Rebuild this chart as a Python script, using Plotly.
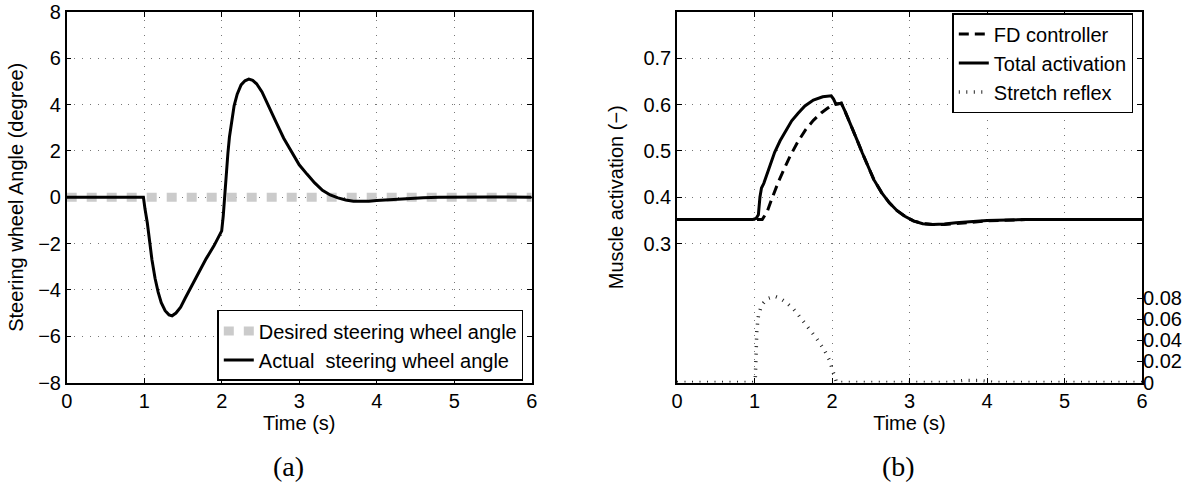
import plotly.graph_objects as go

# ---------------- data: panel (a) ----------------
t_desired = [0, 6]
angle_desired = [0, 0]

t_actual = [0, 0.99, 1.01, 1.04, 1.07, 1.10, 1.14, 1.18, 1.22, 1.27, 1.32, 1.36, 1.41,
            1.47, 1.53, 1.60, 1.70, 1.80, 1.90, 1.98, 2.00, 2.02, 2.04, 2.06, 2.08,
            2.10, 2.13, 2.16, 2.20, 2.25, 2.30, 2.35, 2.40, 2.45, 2.52, 2.60, 2.70,
            2.80, 2.90, 3.00, 3.10, 3.20, 3.30, 3.40, 3.50, 3.60, 3.70, 3.80, 3.90,
            4.00, 4.20, 4.40, 4.60, 4.80, 5.00, 5.50, 6.00]
angle_actual = [0, 0, -0.5, -1.1, -1.9, -2.7, -3.5, -4.1, -4.55, -4.9, -5.08, -5.12, -5.0,
                -4.75, -4.35, -3.9, -3.25, -2.65, -2.1, -1.6, -1.45, -0.8, 0.2, 1.1, 1.9,
                2.6, 3.4, 3.95, 4.45, 4.85, 5.03, 5.1, 5.05, 4.9, 4.55, 4.0, 3.25,
                2.55, 2.0, 1.4, 1.0, 0.62, 0.3, 0.1, -0.03, -0.12, -0.17, -0.18, -0.17,
                -0.14, -0.09, -0.05, -0.02, 0.0, 0.01, 0.01, 0.0]

# ---------------- data: panel (b) ----------------
t_total = [0, 0.98, 1.02, 1.05, 1.07, 1.09, 1.12, 1.16, 1.21, 1.26, 1.33, 1.41, 1.48,
           1.56, 1.65, 1.76, 1.88, 1.99, 2.02, 2.05, 2.09, 2.12, 2.17, 2.25, 2.32,
           2.39, 2.46, 2.54, 2.64, 2.74, 2.84, 2.94, 3.05, 3.17, 3.30, 3.45, 3.60,
           3.80, 4.00, 4.50, 5.00, 6.00]
act_total = [0.352, 0.352, 0.354, 0.362, 0.40, 0.42, 0.43, 0.45, 0.475, 0.497, 0.522, 0.546, 0.565,
             0.581, 0.597, 0.610, 0.617, 0.619, 0.612, 0.601, 0.603, 0.603, 0.585, 0.555, 0.525,
             0.496, 0.467, 0.438, 0.410, 0.388, 0.371, 0.359, 0.349, 0.343, 0.341, 0.342, 0.345,
             0.348, 0.350, 0.352, 0.352, 0.352]

t_fd = [0, 1.08, 1.10, 1.13, 1.17, 1.22, 1.27, 1.31, 1.38, 1.46, 1.56, 1.66, 1.76, 1.86,
        1.95, 2.00, 2.05, 2.09, 2.12, 2.17, 2.25, 2.32, 2.39, 2.46, 2.54, 2.64, 2.74,
        2.84, 2.94, 3.05, 3.17, 3.30, 3.45, 3.60, 3.80, 4.00, 4.50, 5.00, 6.00]
act_fd = [0.352, 0.352, 0.352, 0.36, 0.372, 0.395, 0.418, 0.434, 0.46, 0.489, 0.52, 0.546, 0.566, 0.582,
          0.593, 0.598, 0.601, 0.603, 0.603, 0.585, 0.555, 0.525, 0.496, 0.467, 0.438, 0.410, 0.388,
          0.371, 0.359, 0.349, 0.343, 0.341, 0.341, 0.343, 0.346, 0.349, 0.352, 0.352, 0.352]

t_reflex = [0, 0.99, 1.01, 1.02, 1.03, 1.05, 1.08, 1.12, 1.18, 1.26, 1.33, 1.41, 1.50,
            1.60, 1.70, 1.80, 1.90, 1.97, 2.01, 2.04, 2.06, 3.50, 3.60, 3.70, 3.80,
            3.90, 4.00, 4.10, 6.00]
act_reflex = [0, 0, 0.003, 0.03, 0.05, 0.063, 0.071, 0.076, 0.080, 0.082, 0.080, 0.076, 0.070,
              0.061, 0.052, 0.042, 0.031, 0.021, 0.011, 0.003, 0, 0, 0.001, 0.002, 0.002,
              0.002, 0.001, 0, 0]

x_ticks = [0, 1, 2, 3, 4, 5, 6]
ya_ticks = [-8, -6, -4, -2, 0, 2, 4, 6, 8]
yb_ticks = [0.3, 0.4, 0.5, 0.6, 0.7]
yb2_ticks = [0, 0.02, 0.04, 0.06, 0.08]

FONT = "Liberation Sans, Arial, sans-serif"
W, H = 1196, 486

fig = go.Figure()

fig.add_trace(go.Scatter(x=t_desired, y=angle_desired, mode="lines",
                         name="Desired steering wheel angle",
                         line=dict(color="#cbcbcb", width=9, dash="10px,10px"),
                         xaxis="x", yaxis="y", legend="legend"))
fig.add_trace(go.Scatter(x=t_actual, y=angle_actual, mode="lines",
                         name="Actual  steering wheel angle",
                         line=dict(color="black", width=3),
                         xaxis="x", yaxis="y", legend="legend"))

fig.add_trace(go.Scatter(x=t_fd, y=act_fd, mode="lines", name="FD controller",
                         line=dict(color="black", width=3, dash="10px,6px"),
                         xaxis="x2", yaxis="y2", legend="legend2"))
fig.add_trace(go.Scatter(x=t_total, y=act_total, mode="lines", name="Total activation",
                         line=dict(color="black", width=3),
                         xaxis="x2", yaxis="y2", legend="legend2"))
fig.add_trace(go.Scatter(x=t_reflex, y=act_reflex, mode="lines", name="Stretch reflex",
                         line=dict(color="#222222", width=3.5, dash="1px,6.5px"),
                         xaxis="x2", yaxis="y3", legend="legend2"))

ydom = [1 - 382.5 / H, 1 - 12 / H]
xdom_a = [66.7 / W, 531.7 / W]
xdom_b = [677 / W, 1142 / W]

common_axis = dict(
    showline=True, linecolor="black", linewidth=1.5, mirror="ticks",
    ticks="inside", ticklen=5, tickwidth=1, tickcolor="black",
    showgrid=True, gridcolor="#777777", gridwidth=1, griddash="1px,6.7px",
    zeroline=False, automargin=False,
    tickfont=dict(family=FONT, size=20, color="black"),
)

fig.update_layout(
    width=W, height=H,
    margin=dict(l=0, r=0, t=0, b=0),
    paper_bgcolor="white", plot_bgcolor="white",
    font=dict(family=FONT, size=20, color="black"),
    xaxis=dict(common_axis, domain=xdom_a, range=[0, 6], tickvals=x_ticks,
               anchor="y",
               title=dict(text="Time (s)", font=dict(family=FONT, size=20), standoff=3)),
    yaxis=dict(common_axis, domain=ydom, range=[-8, 8], tickvals=ya_ticks,
               anchor="x",
               title=dict(text="Steering wheel Angle (degree)",
                          font=dict(family=FONT, size=20), standoff=9)),
    xaxis2=dict(common_axis, domain=xdom_b, range=[0, 6], tickvals=x_ticks,
                anchor="y2",
                title=dict(text="Time (s)", font=dict(family=FONT, size=20), standoff=3)),
    yaxis2=dict(common_axis, domain=ydom, range=[0, 0.8], tickvals=yb_ticks,
                anchor="x2",
                title=dict(text="Muscle activation (−)",
                           font=dict(family=FONT, size=20), standoff=14)),
    yaxis3=dict(domain=ydom, range=[0, 0.352], tickvals=yb2_ticks,
                overlaying="y2", side="right", anchor="x2",
                showline=False, showgrid=False, zeroline=False,
                ticks="inside", ticklen=5, tickwidth=1, tickcolor="black",
                automargin=False,
                tickfont=dict(family=FONT, size=20, color="black")),
    legend=dict(x=523.3 / W, y=1 - 345.4 / H, xanchor="right", yanchor="middle",
                bgcolor="white", bordercolor="black", borderwidth=1.5,
                font=dict(family=FONT, size=20, color="black"),
                tracegroupgap=0, itemwidth=30),
    legend2=dict(x=1133.3 / W, y=1 - 63 / H, xanchor="right", yanchor="middle",
                 bgcolor="white", bordercolor="black", borderwidth=1.5,
                 font=dict(family=FONT, size=20, color="black"),
                 tracegroupgap=0, itemwidth=30),
    annotations=[
        dict(text="(a)", x=288 / W, y=1 - 466 / H, xref="paper", yref="paper",
             showarrow=False, xanchor="center", yanchor="middle",
             font=dict(family="Liberation Serif, serif", size=28, color="black")),
        dict(text="(b)", x=898 / W, y=1 - 466 / H, xref="paper", yref="paper",
             showarrow=False, xanchor="center", yanchor="middle",
             font=dict(family="Liberation Serif, serif", size=28, color="black")),
    ],
)

fig.write_html("out.html")
